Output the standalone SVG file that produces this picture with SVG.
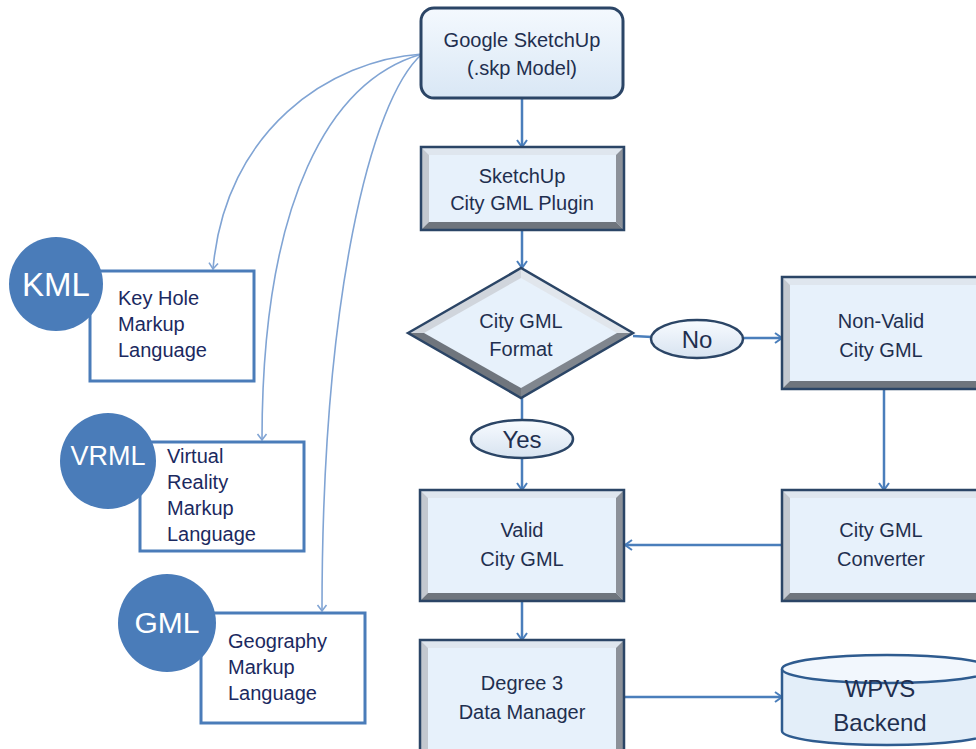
<svg xmlns="http://www.w3.org/2000/svg" width="976" height="749" viewBox="0 0 976 749">
<defs>
<style>
text{font-family:"Liberation Sans",Arial,sans-serif}
.lbl{font-size:20px;fill:#1f2f4f;text-anchor:middle}
.side{font-size:20px;fill:#1b2960}
.circ{fill:#4a7cb9}
.ctext{fill:#ffffff;text-anchor:middle}
.sbox{fill:#ffffff;stroke:#4a7cb9;stroke-width:3}
.border{fill:none;stroke:#2b4566;stroke-width:2.5}
.inner{fill:#e7f1fb}
.bt{fill:#dfe6ee}
.bl{fill:#c3c8cf}
.br{fill:#8c9199}
.bb{fill:#6f757d}
.conn{fill:none;stroke:#4a7ebb;stroke-width:2.5}
.curve{fill:none;stroke:#80a4d4;stroke-width:1.6}
</style>
<marker id="ah" markerWidth="12" markerHeight="12" refX="9" refY="6" orient="auto" markerUnits="userSpaceOnUse">
<path d="M2,1 L9,6 L2,11" fill="none" stroke="#4a7ebb" stroke-width="2"/>
</marker>
<marker id="ahs" markerWidth="12" markerHeight="12" refX="9" refY="6" orient="auto" markerUnits="userSpaceOnUse">
<path d="M3,1.5 L9,6 L3,10.5" fill="none" stroke="#80a4d4" stroke-width="1.6"/>
</marker>
<linearGradient id="gtop" x1="0" y1="0" x2="0" y2="1">
<stop offset="0" stop-color="#f4f9fe"/>
<stop offset="1" stop-color="#d9e7f5"/>
</linearGradient>
<linearGradient id="gell" x1="0" y1="0" x2="0" y2="1">
<stop offset="0" stop-color="#f8fbff"/>
<stop offset="1" stop-color="#d7e3f0"/>
</linearGradient>
</defs>

<g id="connectors">
<line class="conn" x1="522" y1="98" x2="522" y2="147" marker-end="url(#ah)"/>
<line class="conn" x1="522" y1="230" x2="522" y2="268" marker-end="url(#ah)"/>
<line class="conn" x1="633" y1="336" x2="652" y2="337"/>
<line class="conn" x1="743" y1="338" x2="782" y2="338" marker-end="url(#ah)"/>
<line class="conn" x1="522" y1="398" x2="522" y2="420"/>
<line class="conn" x1="522" y1="458" x2="522" y2="490" marker-end="url(#ah)"/>
<line class="conn" x1="884" y1="389" x2="884" y2="490" marker-end="url(#ah)"/>
<line class="conn" x1="782" y1="545" x2="625" y2="545" marker-end="url(#ah)"/>
<line class="conn" x1="522" y1="601" x2="522" y2="640" marker-end="url(#ah)"/>
<line class="conn" x1="624" y1="697" x2="782" y2="697" marker-end="url(#ah)"/>
<path class="curve" d="M422,54 C330,60 225,130 213,269" marker-end="url(#ahs)"/>
<path class="curve" d="M422,54 C330,80 262,200 262,440" marker-end="url(#ahs)"/>
<path class="curve" d="M422,54 C370,100 322,300 322,611" marker-end="url(#ahs)"/>
</g>

<g id="google">
<rect x="421" y="8" width="202" height="90" rx="13" fill="url(#gtop)" stroke="#2b4566" stroke-width="3"/>
<text class="lbl" x="522" y="47">Google SketchUp</text>
<text class="lbl" x="522" y="75">(.skp Model)</text>
</g>

<g id="plugin">
<rect class="inner" x="421" y="147" width="203" height="83"/>
<polygon class="bt" points="421,147 624,147 616,155 429,155"/>
<polygon class="bl" points="421,147 429,155 429,222 421,230"/>
<polygon class="br" points="624,147 624,230 616,222 616,155"/>
<polygon class="bb" points="421,230 429,222 616,222 624,230"/>
<rect class="border" x="421" y="147" width="203" height="83"/>
<text class="lbl" x="522" y="183">SketchUp</text>
<text class="lbl" x="522" y="210">City GML Plugin</text>
</g>

<g id="decision">
<polygon points="408,333 521,268 633,333 521,398" fill="#e7f1fb"/>
<polygon points="408,333 521,268 521,278 424,333" fill="#d0d5dc"/>
<polygon points="521,268 633,333 617,333 521,278" fill="#e1e6ec"/>
<polygon points="633,333 521,398 521,388 617,333" fill="#80868e"/>
<polygon points="521,398 408,333 424,333 521,388" fill="#6f757d"/>
<polygon points="408,333 521,268 633,333 521,398" fill="none" stroke="#2b4566" stroke-width="2.5"/>
<text class="lbl" x="521" y="328">City GML</text>
<text class="lbl" x="521" y="356">Format</text>
</g>

<g id="no">
<ellipse cx="697" cy="339" rx="46" ry="19" fill="url(#gell)" stroke="#2b4566" stroke-width="2.5"/>
<text class="lbl" x="697" y="348" style="font-size:24px">No</text>
</g>

<g id="yes">
<ellipse cx="522" cy="439" rx="51" ry="19" fill="url(#gell)" stroke="#2b4566" stroke-width="2.5"/>
<text class="lbl" x="522" y="448" style="font-size:24px">Yes</text>
</g>

<g id="nonvalid">
<rect class="inner" x="782" y="277" width="210" height="112"/>
<polygon class="bt" points="782,277 992,277 984,285 790,285"/>
<polygon class="bl" points="782,277 790,285 790,381 782,389"/>
<polygon class="bb" points="782,389 790,381 984,381 992,389"/>
<rect class="border" x="782" y="277" width="210" height="112"/>
<text class="lbl" x="881" y="328">Non-Valid</text>
<text class="lbl" x="881" y="357">City GML</text>
</g>

<g id="valid">
<rect class="inner" x="420" y="490" width="204" height="111"/>
<polygon class="bt" points="420,490 624,490 616,498 428,498"/>
<polygon class="bl" points="420,490 428,498 428,593 420,601"/>
<polygon class="br" points="624,490 624,601 616,593 616,498"/>
<polygon class="bb" points="420,601 428,593 616,593 624,601"/>
<rect class="border" x="420" y="490" width="204" height="111"/>
<text class="lbl" x="522" y="537">Valid</text>
<text class="lbl" x="522" y="566">City GML</text>
</g>

<g id="converter">
<rect class="inner" x="782" y="490" width="210" height="111"/>
<polygon class="bt" points="782,490 992,490 984,498 790,498"/>
<polygon class="bl" points="782,490 790,498 790,593 782,601"/>
<polygon class="bb" points="782,601 790,593 984,593 992,601"/>
<rect class="border" x="782" y="490" width="210" height="111"/>
<text class="lbl" x="881" y="537">City GML</text>
<text class="lbl" x="881" y="566">Converter</text>
</g>

<g id="degree">
<rect class="inner" x="420" y="640" width="204" height="120"/>
<polygon class="bt" points="420,640 624,640 616,648 428,648"/>
<polygon class="bl" points="420,640 428,648 428,760 420,760"/>
<polygon class="br" points="624,640 624,760 616,760 616,648"/>
<rect class="border" x="420" y="640" width="204" height="120"/>
<text class="lbl" x="522" y="690">Degree 3</text>
<text class="lbl" x="522" y="719">Data Manager</text>
</g>

<g id="wpvs">
<path d="M782,669 L782,731 A105,14 0 0 0 992,731 L992,669" fill="#e3eef9" stroke="#2e5b8f" stroke-width="2.5"/>
<ellipse cx="887" cy="669" rx="105" ry="14" fill="#f2f7fd" stroke="#2e5b8f" stroke-width="2.5"/>
<text class="lbl" x="880" y="697" style="font-size:24px">WPVS</text>
<text class="lbl" x="880" y="731" style="font-size:24px">Backend</text>
</g>

<g id="kml">
<rect class="sbox" x="90" y="271" width="164" height="110"/>
<circle class="circ" cx="56" cy="284" r="47"/>
<text class="ctext" x="56" y="296" style="font-size:33px">KML</text>
<text class="side" x="118" y="305">Key Hole</text>
<text class="side" x="118" y="331">Markup</text>
<text class="side" x="118" y="357">Language</text>
</g>

<g id="vrml">
<rect class="sbox" x="140" y="442" width="164" height="109"/>
<circle class="circ" cx="108" cy="461" r="48"/>
<text class="ctext" x="108" y="465" style="font-size:27px">VRML</text>
<text class="side" x="167" y="463">Virtual</text>
<text class="side" x="167" y="489">Reality</text>
<text class="side" x="167" y="515">Markup</text>
<text class="side" x="167" y="541">Language</text>
</g>

<g id="gml">
<rect class="sbox" x="201" y="613" width="164" height="110"/>
<circle class="circ" cx="167" cy="623" r="49"/>
<text class="ctext" x="167" y="633" style="font-size:30px">GML</text>
<text class="side" x="228" y="648">Geography</text>
<text class="side" x="228" y="674">Markup</text>
<text class="side" x="228" y="700">Language</text>
</g>
</svg>
